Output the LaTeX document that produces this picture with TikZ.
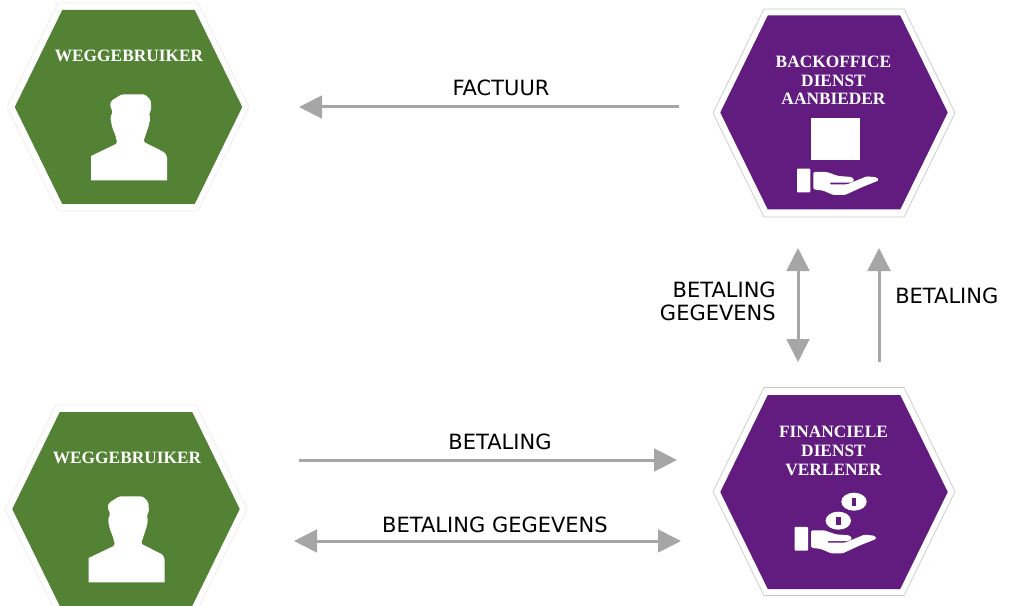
\documentclass[tikz,border=0pt]{standalone}
\usepackage{fontspec}
\setmainfont{DejaVu Sans}
\newfontfamily\hexfont{Liberation Serif}
\usetikzlibrary{arrows.meta,shapes.symbols}
\definecolor{hexgreen}{HTML}{548235}
\definecolor{hexpurple}{HTML}{621C80}
\definecolor{arrowgray}{HTML}{A6A6A6}
\tikzset{
  hexbase/.style={signal, signal from=nowhere, signal to=east and west, signal pointer angle=127.8, inner sep=0pt, outer sep=0pt, anchor=center},
  hexfill/.style={hexbase, fill=#1, minimum width=170.6pt, minimum height=145.5pt},
  hexrim/.style={hexbase, fill=white, draw=#1, line width=0.5pt, minimum width=181.5pt, minimum height=156pt},
  hextext/.style={font=\hexfont\bfseries\fontsize{13pt}{14pt}\selectfont, text=white, align=center, inner sep=0pt},
  flowlabel/.style={font=\fontsize{15.75pt}{17pt}\selectfont, text=black, inner sep=0pt},
  flow/.style={draw=arrowgray, line width=2.25pt},
  tip/.tip={Triangle[length=17.25pt, width=17pt]},
  personpic/.pic={
    \fill[white, x=.25pt, y=-.25pt, rounded corners=1.2pt]
      (273,541) [sharp corners] -- (273,468) [rounded corners=1.2pt] -- (352,430) -- (346,405) -- (336,380) -- (331,352) -- (338,335) -- (330,318) -- (333,303) -- (365,283) -- (435,283) -- (452,300) -- (454,330) -- (447,340) -- (451,355) -- (446,378) -- (430,425) -- (495,458) -- (501,470) [sharp corners] -- (501,541) -- cycle;
  },
  handpic/.pic={
    \fill[white, x=.25pt, y=-.25pt, rounded corners=.6pt] (291,506) rectangle (331,577);
    \fill[white, x=.25pt, y=-.25pt, rounded corners=1pt]
      (340,516) -- (380,516) -- (415,528) -- (455,531) -- (464,541) -- (452,548) -- (388,548) -- (388,553) -- (442,553) -- (500,529) -- (530,532) -- (537,541) -- (485,562) -- (435,585) -- (400,585) -- (370,572) -- (340,568) -- cycle;
  },
}
\begin{document}
\begin{tikzpicture}[x=.75pt, y=-.75pt]
\useasboundingbox (0,0) rectangle (1014,606);
\clip (0,0) rectangle (1014,606);
% rims
\node[hexrim=black!8] (garim) at (128,107) {};
\node[hexrim=black!22] (hbrim) at (834,113) {};
\node[hexrim=black!22] (hfrim) at (834,491.5) {};
\node[hexrim=black!8] (gbrim) at (126,509) {};
% hexagons
\node[hexfill=hexgreen] (ga) at (128.5,107) {};
\node[hexfill=hexpurple] (hb) at (834,112.5) {};
\node[hexfill=hexpurple] (hf) at (834,492) {};
\node[hexfill=hexgreen] (gb) at (126,509) {};
% hexagon titles
\node[hextext] (gat) at (129,55.5) {WEGGEBRUIKER};
\node[hextext] (hbt) at (833.5,80.5) {BACKOFFICE\\DIENST\\AANBIEDER};
\node[hextext] (hft) at (833.5,451) {FINANCIELE\\DIENST\\VERLENER};
\node[hextext] (gbt) at (127,458) {WEGGEBRUIKER};
% icons
\pic at (0,0) {personpic};
\pic at (-2.33,402) {personpic};
\node[fill=white, inner sep=0pt, minimum width=36.75pt, minimum height=31pt] (box) at (835.5,139) {};
\pic at (700,0) {handpic};
\pic at (697.67,358.33) {handpic};
\fill[white] (854,501.7) ellipse (12.7 and 9);
\fill[hexpurple] (851.7,497.5) rectangle (856.3,506);
\fill[white] (838.3,520.7) ellipse (12.7 and 9);
\fill[hexpurple] (836,516.5) rectangle (840.6,525);
% connectors
\draw[flow, -{tip}] ([shift={(-155,-5.5)}]hb.center) -- ([shift={(170.5,0)}]ga.center);
\draw[flow, -{tip}] ([shift={(173,-49)}]gb.center) -- ([shift={(-157,-32)}]hf.center);
\draw[flow, {tip}-{tip}] ([shift={(168,32)}]gb.center) -- ([shift={(-153,49)}]hf.center);
\draw[flow, {tip}-{tip}] ([shift={(-36,135.5)}]hb.center) -- ([shift={(-36,-130)}]hf.center);
\draw[flow, -{tip}] ([shift={(45,-130)}]hf.center) -- ([shift={(45,135.5)}]hb.center);
% labels
\node[flowlabel] (lf) at (501,88) {FACTUUR};
\node[flowlabel] (lb) at (500,442) {BETALING};
\node[flowlabel] (lg) at (495,524.5) {BETALING GEGEVENS};
\node[flowlabel, anchor=east] (lv1) at (776,290) {BETALING};
\node[flowlabel, anchor=east] (lv2) at (776,313) {GEGEVENS};
\node[flowlabel, anchor=west] (lv3) at (895,296) {BETALING};
\end{tikzpicture}
\end{document}
